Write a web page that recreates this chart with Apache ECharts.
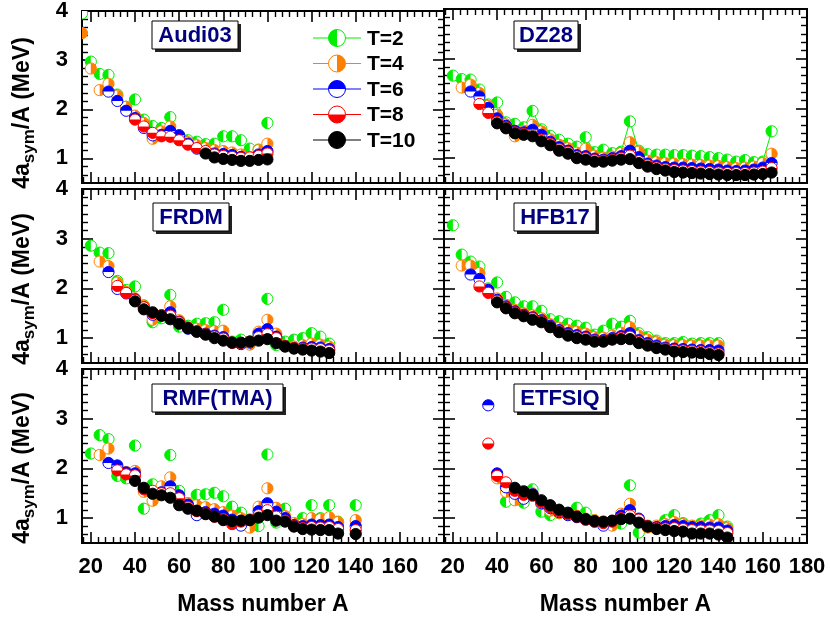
<!DOCTYPE html>
<html>
<head>
<meta charset="utf-8">
<script src="https://cdn.jsdelivr.net/npm/echarts@6/dist/echarts.min.js"></script>
<style>
html,body{margin:0;padding:0;background:#fff;}
#chart{width:830px;height:617px;}
</style>
</head>
<body>
<div id="chart"></div>
<script>
// ---- symmetry energy 4a_sym/A (MeV) versus mass number A, for isospin T = 2..10 ----

const audiMass = [16,20,24,28,32,36,40,44,48,52,56,60,64,68,72,76,80,84,88,92,96,100];
const audiT2  = [3.95,2.97,2.72,2.70,2.30,2.05,2.20,1.79,1.66,1.62,1.84,1.47,1.37,1.34,1.29,1.30,1.45,1.45,1.37,1.20,1.18,1.72];
const audiT4  = [3.55,2.83,2.39,2.52,2.28,2.05,1.87,1.72,1.40,1.55,1.65,1.47,1.33,1.27,1.21,1.17,1.15,1.12,1.08,1.03,1.17,1.30];
const audiT6  = [null,null,null,2.36,2.17,1.97,1.82,1.62,1.47,1.48,1.56,1.47,1.30,1.20,1.12,1.10,1.09,1.07,1.03,0.98,1.08,1.15];
const audiT8  = [null,null,null,null,null,null,1.79,1.65,1.52,1.45,1.44,1.37,1.28,1.21,1.15,1.08,1.05,1.03,1.01,1.02,1.05,1.10];
const audiT10 = [null,null,null,null,null,null,null,null,null,null,null,null,null,null,1.10,1.02,0.99,0.97,0.95,0.95,0.97,0.98];

const dzMass = [20,24,28,32,36,40,44,48,52,56,60,64,68,72,76,80,84,88,92,96,100,104,108,112,116,120,124,128,132,136,140,144,148,152,156,160,164];
const dzT2  = [2.66,2.59,2.58,2.38,2.08,2.12,1.72,1.69,1.62,1.95,1.58,1.45,1.37,1.29,1.23,1.42,1.12,1.17,1.10,1.13,1.74,1.15,1.08,1.07,1.07,1.06,1.06,1.05,1.04,1.02,1.00,0.97,0.93,0.96,0.92,0.93,1.54];
const dzT4  = [null,2.42,2.48,2.31,2.05,1.87,1.68,1.44,1.55,1.67,1.54,1.38,1.27,1.20,1.11,1.19,1.05,1.01,1.03,1.10,1.32,1.13,0.95,0.92,0.90,0.89,0.88,0.87,0.86,0.85,0.84,0.82,0.80,0.81,0.83,0.90,1.09];
const dzT6  = [null,null,2.34,2.24,2.01,1.80,1.65,1.55,1.52,1.57,1.47,1.33,1.22,1.15,1.06,1.04,0.99,0.97,1.00,1.04,1.15,1.02,0.89,0.85,0.82,0.81,0.81,0.80,0.79,0.78,0.77,0.75,0.74,0.75,0.77,0.81,0.90];
const dzT8  = [null,null,null,2.09,1.91,1.73,1.62,1.52,1.49,1.47,1.37,1.29,1.18,1.12,1.03,1.00,0.96,0.95,0.97,1.00,1.05,0.94,0.86,0.81,0.78,0.76,0.75,0.74,0.73,0.72,0.71,0.70,0.70,0.70,0.71,0.73,0.80];
const dzT10 = [null,null,null,null,null,1.70,1.60,1.50,1.47,1.44,1.34,1.26,1.15,1.09,1.00,0.97,0.93,0.93,0.95,0.97,0.98,0.90,0.83,0.78,0.75,0.72,0.71,0.70,0.69,0.68,0.67,0.66,0.66,0.66,0.67,0.68,0.71];

const frdmMass = [20,24,28,32,36,40,44,48,52,56,60,64,68,72,76,80,84,88,92,96,100,104,108,112,116,120,124,128];
const frdmT2  = [2.86,2.72,2.71,2.15,1.97,2.04,1.66,1.32,1.40,1.87,1.23,1.25,1.29,1.30,1.32,1.57,0.93,0.97,0.93,1.05,1.79,0.86,0.93,0.97,1.00,1.10,1.03,0.89];
const frdmT4  = [null,2.54,2.45,2.12,1.93,1.80,1.65,1.37,1.45,1.64,1.36,1.22,1.19,1.16,1.14,1.15,0.90,0.90,0.87,1.13,1.37,1.09,0.85,0.83,0.86,0.89,0.87,0.83];
const frdmT6  = [null,null,2.33,1.99,1.90,1.78,1.62,1.47,1.46,1.52,1.33,1.19,1.13,1.09,1.05,1.02,0.91,0.88,0.91,1.09,1.18,1.03,0.84,0.80,0.81,0.82,0.81,0.78];
const frdmT8  = [null,null,null,2.05,1.91,1.77,1.62,1.50,1.46,1.45,1.32,1.21,1.14,1.08,1.03,0.99,0.91,0.90,0.93,1.02,1.08,1.00,0.84,0.80,0.79,0.79,0.78,0.75];
const frdmT10 = [null,null,null,null,null,1.74,1.58,1.52,1.45,1.38,1.29,1.20,1.13,1.07,1.00,0.95,0.91,0.91,0.93,0.95,0.98,0.90,0.83,0.79,0.77,0.75,0.73,0.70];

const hfbMass = [20,24,28,32,36,40,44,48,52,56,60,64,68,72,76,80,84,88,92,96,100,104,108,112,116,120,124,128,132,136,140];
const hfbT2  = [3.27,2.68,2.54,2.44,2.00,2.12,1.83,1.72,1.64,1.64,1.55,1.38,1.34,1.29,1.25,1.21,1.07,1.15,1.29,1.23,1.35,1.10,1.02,0.95,0.90,0.90,0.92,0.89,0.90,0.90,0.90];
const hfbT4  = [null,2.46,2.46,2.31,1.99,1.80,1.67,1.57,1.50,1.46,1.40,1.28,1.21,1.16,1.13,1.09,1.02,1.01,1.05,1.11,1.22,1.05,0.97,0.92,0.87,0.86,0.86,0.85,0.85,0.85,0.85];
const hfbT6  = [null,null,2.28,2.19,1.97,1.77,1.64,1.54,1.47,1.42,1.36,1.25,1.16,1.10,1.06,1.03,0.97,0.96,1.00,1.04,1.10,0.96,0.90,0.85,0.81,0.79,0.78,0.77,0.76,0.76,0.75];
const hfbT8  = [null,null,null,2.04,1.91,1.75,1.62,1.52,1.45,1.40,1.34,1.23,1.14,1.07,1.03,1.00,0.95,0.94,0.98,1.01,1.03,0.93,0.87,0.82,0.79,0.76,0.75,0.74,0.73,0.71,0.69];
const hfbT10 = [null,null,null,null,null,1.72,1.60,1.50,1.44,1.37,1.32,1.22,1.12,1.05,1.00,0.97,0.93,0.93,0.97,0.98,0.98,0.90,0.85,0.80,0.77,0.73,0.72,0.71,0.70,0.68,0.66];

const rmfMass = [20,24,28,32,36,40,44,48,52,56,60,64,68,72,76,80,84,88,92,96,100,104,108,112,116,120,124,128,132,140];
const rmfT2  = [2.30,2.67,2.59,1.85,1.80,2.46,1.19,1.68,1.62,2.27,1.55,1.30,1.47,1.48,1.51,1.44,1.23,1.11,0.97,0.84,2.28,0.91,1.19,0.89,1.00,1.26,1.00,1.26,0.93,1.26];
const rmfT4  = [null,2.27,2.40,2.00,1.93,1.95,1.53,1.35,1.64,1.82,1.45,1.30,1.26,1.22,1.18,1.12,1.05,1.00,0.81,1.23,1.60,1.21,1.04,0.90,0.88,1.00,0.98,1.02,0.92,0.96];
const rmfT6  = [null,null,2.11,2.06,1.92,1.90,1.59,1.52,1.52,1.64,1.46,1.27,1.06,1.12,1.09,1.05,0.97,0.85,0.96,1.14,1.30,1.13,1.00,0.86,0.84,0.87,0.86,0.87,0.82,0.84];
const rmfT8  = [null,null,null,1.96,1.88,1.86,1.58,1.55,1.50,1.50,1.40,1.22,1.14,1.09,1.03,0.98,0.88,0.93,0.97,1.06,1.16,1.03,0.95,0.84,0.80,0.82,0.81,0.82,0.78,0.76];
const rmfT10 = [null,null,null,null,null,1.75,1.61,1.49,1.46,1.41,1.26,1.19,1.15,1.08,1.03,0.96,0.94,0.95,0.96,1.01,1.06,0.95,0.93,0.83,0.78,0.77,0.76,0.76,0.69,0.68];

const etfMass = [36,40,44,48,52,56,60,64,68,72,76,80,84,88,92,96,100,104,108,112,116,120,124,128,132,136,140,144];
const etfT2  = [null,1.88,1.33,1.45,1.31,1.58,1.13,1.06,1.10,1.07,1.21,1.11,0.96,0.90,0.93,0.89,1.66,0.71,0.85,0.82,0.96,1.06,0.90,0.82,0.89,0.96,1.06,0.83];
const etfT4  = [null,1.80,1.53,1.36,1.45,1.50,1.28,1.15,1.10,1.07,1.05,0.99,0.96,0.92,0.85,1.09,1.29,0.97,0.81,0.85,0.88,0.92,0.88,0.85,0.85,0.87,0.88,0.80];
const etfT6  = [3.27,1.90,1.62,1.49,1.39,1.48,1.30,1.20,1.12,1.06,1.02,0.97,0.93,0.85,0.94,1.05,1.16,0.99,0.84,0.82,0.84,0.86,0.84,0.82,0.82,0.81,0.81,0.75];
const etfT8  = [2.50,1.85,1.72,1.55,1.47,1.45,1.32,1.22,1.14,1.08,1.03,0.97,0.93,0.90,0.93,1.00,1.05,0.97,0.84,0.80,0.79,0.80,0.78,0.76,0.75,0.75,0.74,0.70];
const etfT10 = [null,null,null,1.61,1.54,1.47,1.36,1.26,1.17,1.11,1.03,0.98,0.94,0.93,0.95,0.98,0.99,0.91,0.83,0.78,0.76,0.74,0.73,0.69,0.69,0.69,0.67,0.61];

const seriesNames = ['T=2','T=4','T=6','T=8','T=10'];
const modelNames = ['Audi03','DZ28','FRDM','HFB17','RMF(TMA)','ETFSIQ'];

// axis ticks
const xMajorTicks = [20,40,60,80,100,120,140,160,180];
const xLabelsLeft = [20,40,60,80,100,120,140,160];
const xLabelsRight = [20,40,60,80,100,120,140,160,180];
const yMajorTicks = [1,2,3,4];
const yLabels = [1,2,3,4];
const X_MIN = 16, X_MAX = 180, Y_MIN = 0.5, Y_MAX = 4;

// minor ticks: five between neighbouring major ticks
function minorTicks(lo, hi, majorStep) {
  const out = [];
  const step = majorStep / 6;
  for (let n = Math.ceil(lo / step); n * step < hi - 1e-6; n++) {
    const v = Math.round(n * step * 1000) / 1000;
    if (v <= lo + 1e-6) continue;
    if (Math.abs(v / majorStep - Math.round(v / majorStep)) < 1e-6) continue;
    out.push(v);
  }
  return out;
}
const xMinorTicks = minorTicks(X_MIN, X_MAX, 20);
const yMinorTicks = minorTicks(Y_MIN, Y_MAX, 1);

const FONT = 'Liberation Sans, Arial, Helvetica, sans-serif';
const colors = ['#00ee00', '#ff8000', '#0000ff', '#ff0000', '#000000'];
// filled half of each symbol: left, right, top, bottom, whole
const halves = [
  [Math.PI / 2, Math.PI * 1.5],
  [-Math.PI / 2, Math.PI / 2],
  [Math.PI, Math.PI * 2],
  [0, Math.PI],
  null
];

const panels = [
  { mass: audiMass, vals: [audiT2, audiT4, audiT6, audiT8, audiT10], col: 0, row: 0, lines: false },
  { mass: dzMass,   vals: [dzT2, dzT4, dzT6, dzT8, dzT10],           col: 1, row: 0, lines: true },
  { mass: frdmMass, vals: [frdmT2, frdmT4, frdmT6, frdmT8, frdmT10], col: 0, row: 1, lines: false },
  { mass: hfbMass,  vals: [hfbT2, hfbT4, hfbT6, hfbT8, hfbT10],      col: 1, row: 1, lines: false },
  { mass: rmfMass,  vals: [rmfT2, rmfT4, rmfT6, rmfT8, rmfT10],      col: 0, row: 2, lines: false },
  { mass: etfMass,  vals: [etfT2, etfT4, etfT6, etfT8, etfT10],      col: 1, row: 2, lines: false }
];

const colGeom = [{ left: 82, width: 362 }, { left: 444, width: 363 }];
const rowGeom = [{ top: 9, height: 174 }, { top: 189, height: 174 }, { top: 369, height: 174 }];
const boxGeom = [
  { x: 152, y: 21, w: 86 }, { x: 514, y: 21, w: 64 },
  { x: 153, y: 203, w: 76 }, { x: 514, y: 203, w: 82 },
  { x: 152, y: 384, w: 131 }, { x: 514, y: 384, w: 92 }
];

const grids = [], xAxes = [], yAxes = [], series = [];

const lineStyleAxis = { color: '#000', width: 2 };
const tickMajor = { show: true, inside: true, length: 11, lineStyle: { color: '#000', width: 1.6 } };
const tickMinor = { show: true, inside: true, length: 6, lineStyle: { color: '#000', width: 1.4 } };
const labelStyle = { color: '#000', fontFamily: FONT, fontWeight: 'bold', fontSize: 22 };

panels.forEach((p, gi) => {
  const c = colGeom[p.col], r = rowGeom[p.row];
  grids.push({ left: c.left, top: r.top, width: c.width, height: r.height, containLabel: false });
  const bottomRow = p.row === 2;
  const xBase = { gridIndex: gi, type: 'value', min: X_MIN, max: X_MAX, splitLine: { show: false },
    axisLine: { show: true, onZero: false, lineStyle: lineStyleAxis } };
  xAxes.push(Object.assign({}, xBase, {
    position: 'bottom',
    axisTick: Object.assign({ customValues: xMajorTicks }, tickMajor),
    axisLabel: Object.assign({ show: bottomRow, margin: 13,
      customValues: p.col === 0 ? xLabelsLeft : xLabelsRight }, labelStyle),
    name: bottomRow ? 'Mass number A' : '',
    nameLocation: 'middle', nameGap: 50,
    nameTextStyle: { color: '#000', fontFamily: FONT, fontWeight: 'bold', fontSize: 23 }
  }));
  xAxes.push(Object.assign({}, xBase, { position: 'bottom',
    axisTick: Object.assign({ customValues: xMinorTicks }, tickMinor), axisLabel: { show: false } }));
  xAxes.push(Object.assign({}, xBase, { position: 'top',
    axisTick: Object.assign({ customValues: xMajorTicks }, tickMajor), axisLabel: { show: false } }));
  xAxes.push(Object.assign({}, xBase, { position: 'top',
    axisTick: Object.assign({ customValues: xMinorTicks }, tickMinor), axisLabel: { show: false } }));

  const yBase = { gridIndex: gi, type: 'value', min: Y_MIN, max: Y_MAX, splitLine: { show: false },
    axisLine: { show: true, onZero: false, lineStyle: lineStyleAxis } };
  yAxes.push(Object.assign({}, yBase, { position: 'left',
    axisTick: Object.assign({ customValues: yMajorTicks }, tickMajor),
    axisLabel: Object.assign({ show: p.col === 0, margin: 14, customValues: yLabels }, labelStyle) }));
  yAxes.push(Object.assign({}, yBase, { position: 'left',
    axisTick: Object.assign({ customValues: yMinorTicks }, tickMinor), axisLabel: { show: false } }));
  yAxes.push(Object.assign({}, yBase, { position: 'right',
    axisTick: Object.assign({ customValues: yMajorTicks }, tickMajor), axisLabel: { show: false } }));
  yAxes.push(Object.assign({}, yBase, { position: 'right',
    axisTick: Object.assign({ customValues: yMinorTicks }, tickMinor), axisLabel: { show: false } }));

  p.vals.forEach((vals, k) => {
    const pts = [];
    p.mass.forEach((a, i) => { if (vals[i] != null) pts.push([a, vals[i]]); });
    if (p.lines) {
      series.push({ type: 'line', name: seriesNames[k], xAxisIndex: gi * 4, yAxisIndex: gi * 4,
        data: pts, showSymbol: false, symbol: 'none', silent: true, z: 2, animation: false,
        lineStyle: { color: colors[k], width: 1 } });
    }
    series.push({
      type: 'custom', name: seriesNames[k], xAxisIndex: gi * 4, yAxisIndex: gi * 4,
      data: pts, clip: true, z: 3 + k, animation: false,
      encode: { x: 0, y: 1 },
      renderItem: makeSymbol(colors[k], halves[k], 5.6)
    });
  });
});

function makeSymbol(color, half, r) {
  return function (params, api) {
    const pt = api.coord([api.value(0), api.value(1)]);
    const children = [{ type: 'circle', shape: { cx: pt[0], cy: pt[1], r: r },
      style: { fill: half ? '#fff' : color, stroke: 'none' } }];
    if (half) {
      children.push({ type: 'sector', shape: { cx: pt[0], cy: pt[1], r0: 0, r: r,
        startAngle: half[0], endAngle: half[1], clockwise: true }, style: { fill: color } });
    }
    children.push({ type: 'circle', shape: { cx: pt[0], cy: pt[1], r: r },
      style: { fill: 'none', stroke: color, lineWidth: 1 } });
    return { type: 'group', children: children };
  };
}

// model name boxes, legend and y titles
const graphics = [];
boxGeom.forEach((b, i) => {
  graphics.push({ type: 'rect', shape: { x: b.x + 3, y: b.y + 3, width: b.w, height: 28 },
    style: { fill: '#222' }, z: 20 });
  graphics.push({ type: 'rect', shape: { x: b.x, y: b.y, width: b.w, height: 28 },
    style: { fill: '#fff', stroke: '#000', lineWidth: 1 }, z: 21 });
  graphics.push({ type: 'text', x: b.x + b.w / 2, y: b.y + 15, z: 22,
    style: { text: modelNames[i], fill: '#000080', font: 'bold 22px ' + FONT,
      textAlign: 'center', textVerticalAlign: 'middle' } });
});

seriesNames.forEach((nm, k) => {
  const y = 38 + k * 25.5, cx = 337, r = 8.5;
  graphics.push({ type: 'line', shape: { x1: 313, y1: y, x2: 361, y2: y },
    style: { stroke: colors[k], lineWidth: 1 }, z: 20 });
  graphics.push({ type: 'circle', shape: { cx: cx, cy: y, r: r },
    style: { fill: halves[k] ? '#fff' : colors[k] }, z: 21 });
  if (halves[k]) {
    graphics.push({ type: 'sector', shape: { cx: cx, cy: y, r0: 0, r: r,
      startAngle: halves[k][0], endAngle: halves[k][1], clockwise: true },
      style: { fill: colors[k] }, z: 22 });
  }
  graphics.push({ type: 'circle', shape: { cx: cx, cy: y, r: r },
    style: { fill: 'none', stroke: colors[k], lineWidth: 1 }, z: 23 });
  graphics.push({ type: 'text', x: 367, y: y + 1, z: 23,
    style: { text: nm, fill: '#000', font: 'bold 21px ' + FONT,
      textAlign: 'left', textVerticalAlign: 'middle' } });
});

[113, 289, 468].forEach(cy => {
  graphics.push({ type: 'text', x: 23, y: cy, rotation: Math.PI / 2, z: 20,
    style: {
      text: '4a{s|sym}/A (MeV)',
      fill: '#000', font: 'bold 23px ' + FONT, textAlign: 'center', textVerticalAlign: 'middle',
      rich: { s: { fontSize: 17, fontWeight: 'bold', fontFamily: FONT, fill: '#000', padding: [13, 0, 0, 0] } }
    } });
});

const chart = echarts.init(document.getElementById('chart'), null, { renderer: 'canvas' });
chart.setOption({
  animation: false,
  backgroundColor: '#fff',
  grid: grids,
  xAxis: xAxes,
  yAxis: yAxes,
  series: series,
  graphic: graphics
});
</script>
</body>
</html>
